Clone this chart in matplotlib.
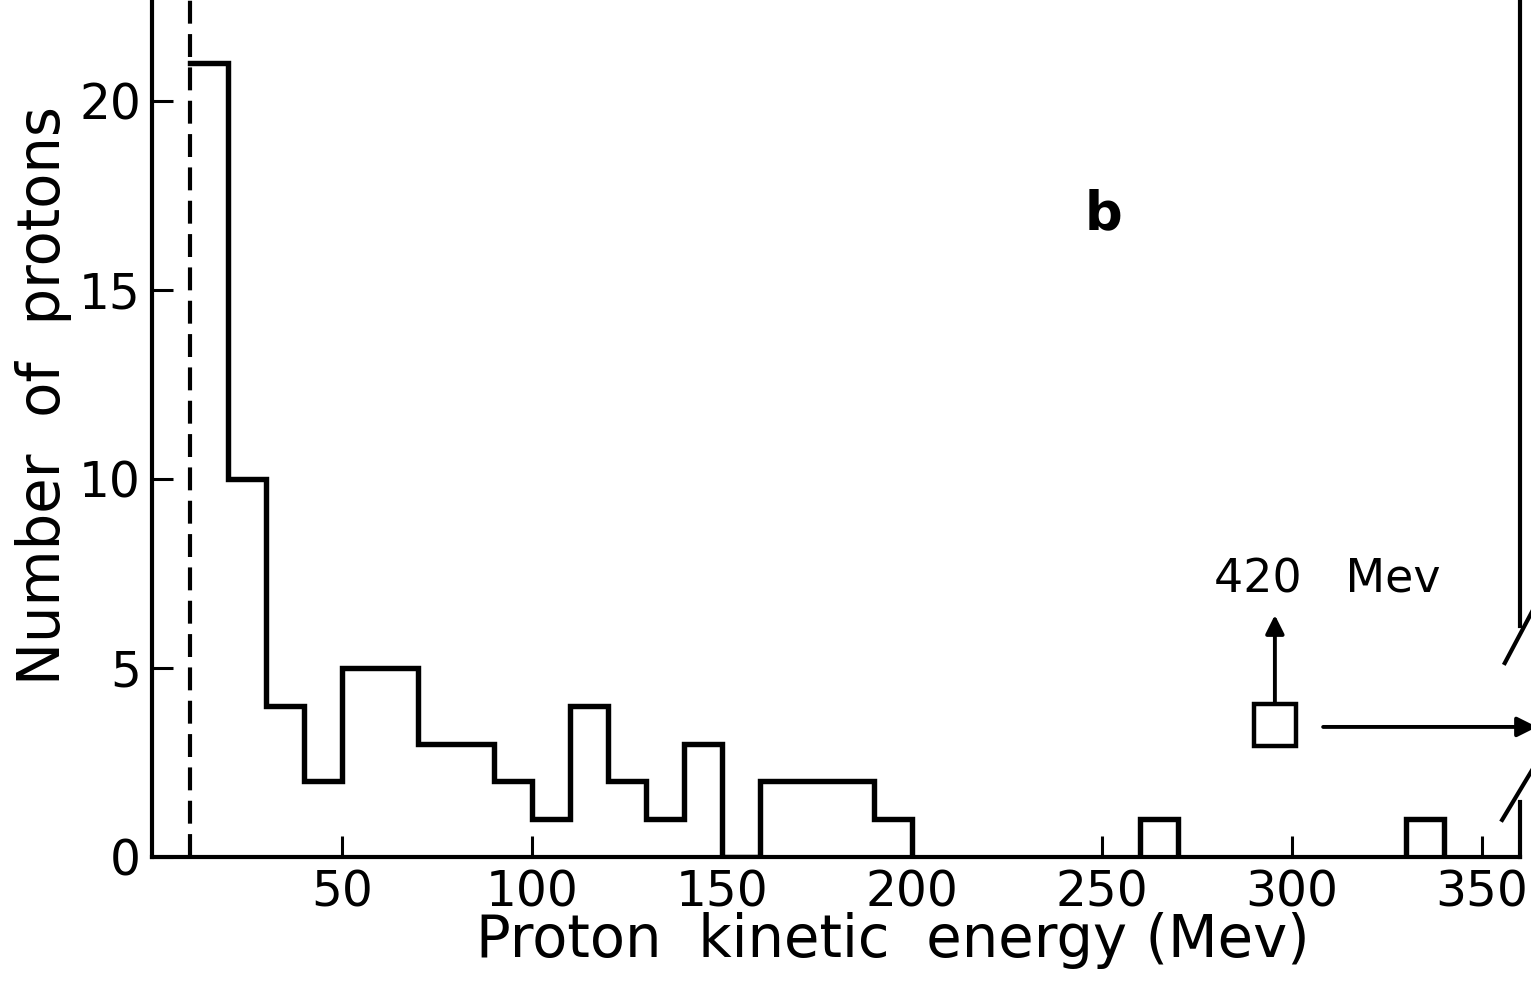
import numpy as np
import matplotlib
matplotlib.use('Agg')
import matplotlib.pyplot as plt

# histogramme principal (bins de 10 Mev, de 10 a 200 Mev)
bin_edges = [10, 20, 30, 40, 50, 60, 70, 80, 90, 100, 110, 120, 130, 140,
             150, 160, 170, 180, 190, 200]
counts = [21, 10, 4, 2, 5, 5, 3, 3, 2, 1, 4, 2, 1, 3, 0, 2, 2, 2, 1]

# barres isolees
iso_left = [260, 330]
iso_counts = [1, 1]
bin_width = 10

# proton de 420 Mev (hors echelle)
far_x = 295.5
far_y = 3.5

cutoff = 10        # seuil (ligne pointillee)
x_break = 360      # bord droit coupe

xticks = [50, 100, 150, 200, 250, 300, 350]
yticks = [0, 5, 10, 15, 20]

lw = 3.9
fs_tick = 35
fs_lab = 41.5

fig = plt.figure(figsize=(15.31, 9.89), dpi=100)
ax = fig.add_axes([0.0993, 0.1335, 0.9007, 0.8665])
ax.set_xlim(0, 362.9)
ax.set_ylim(0, 22.67)

# histogramme en escalier
e = np.array(bin_edges, dtype=float)
c = np.array(counts, dtype=float)
xs = np.repeat(e, 2)[1:]
ys = np.append(np.repeat(c, 2), 0)
ax.plot(xs, ys, color='black', lw=lw, solid_joinstyle='miter')

for xl, n in zip(iso_left, iso_counts):
    ax.stairs([n], [xl, xl + bin_width], baseline=0, color='black', lw=lw)

# seuil
ax.axvline(cutoff, color='black', lw=3.0, ls=(0, (5.5, 2.5)))

# bord droit avec coupure
ax.plot([x_break, x_break], [6.1, 22.67], color='black', lw=3.0, clip_on=False)
ax.plot([x_break, x_break], [0, 1.45], color='black', lw=3.0, clip_on=False)
ax.plot([356.0, 363.5], [5.13, 6.55], color='black', lw=3.0, clip_on=False)
ax.plot([355.3, 363.5], [0.98, 2.35], color='black', lw=3.0, clip_on=False)

# point a 420 Mev
ax.plot([far_x], [far_y], marker='s', ms=30, mfc='white', mec='black',
        mew=3.2, ls='none')
ax.annotate('', xy=(far_x, 6.4), xytext=(far_x, 4.1),
            arrowprops=dict(arrowstyle='-|>', color='black', lw=2.8,
                            mutation_scale=28, shrinkA=0, shrinkB=0))
ax.annotate('', xy=(364.5, 3.44), xytext=(308.2, 3.44),
            arrowprops=dict(arrowstyle='-|>', color='black', lw=2.8,
                            mutation_scale=30, shrinkA=0, shrinkB=0),
            annotation_clip=False)
ax.text(309.2, 7.33, '420   Mev', fontsize=33, ha='center', va='center')

ax.text(250.3, 17.0, 'b', fontsize=38, fontweight='bold',
        ha='center', va='center')

# axes
for s in ['top', 'right']:
    ax.spines[s].set_visible(False)
ax.spines['left'].set_linewidth(3.0)
ax.spines['bottom'].set_linewidth(3.0)
ax.spines['bottom'].set_bounds(0, x_break)

ax.set_xticks(xticks)
ax.set_yticks(yticks)
ax.tick_params(direction='in', length=15, width=2.2, labelsize=fs_tick)
ax.tick_params(axis='x', pad=8)
ax.tick_params(axis='y', pad=8)

ax.set_xlabel('Proton  kinetic  energy (Mev)', fontsize=fs_lab)
ax.xaxis.set_label_coords(0.537, -0.097)
ax.xaxis.label.set_va('center')
ax.set_ylabel('Number  of  protons', fontsize=fs_lab)
ax.yaxis.set_label_coords(-0.079, 0.539)
ax.yaxis.label.set_va('center')

plt.savefig('out.png', dpi=100)
